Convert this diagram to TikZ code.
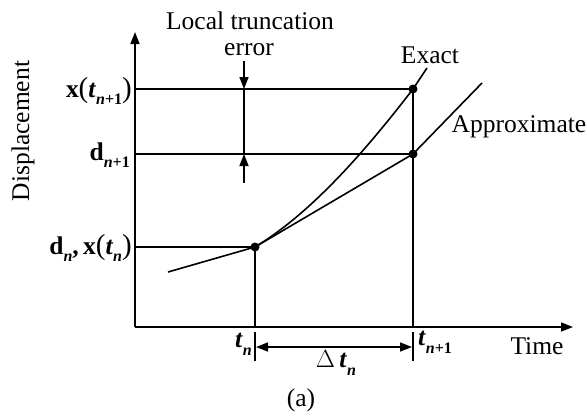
\documentclass[tikz,border=0pt]{standalone}
\usepackage{fontspec}
\setmainfont{Liberation Serif}
\usetikzlibrary{arrows.meta}
\newcommand\myT{\textbf{\textit{t}}}
\newcommand\mysub[1]{\raisebox{-0.3em}{\fontsize{16}{17}\selectfont\bfseries\itshape #1}}
\newcommand\myP[1]{{\fontsize{29}{30}\selectfont #1}}
\begin{document}
\begin{tikzpicture}[x=1pt,y=-1pt,
  line/.style={line width=1.6pt},
  tipend/.style={-{Triangle[length=12pt,width=9pt]}},
  tipboth/.style={{Triangle[length=12pt,width=9pt]}-{Triangle[length=12pt,width=9pt]}},
  dot/.style={circle,fill,inner sep=0pt,minimum size=9pt},
  lbl/.style={font=\fontsize{25.5}{29}\selectfont, inner sep=0pt},
]
\useasboundingbox (0,0) rectangle (587,416);
% coordinates
\coordinate (O) at (135,327);
\coordinate (ytop) at (135,32);
\coordinate (xend) at (573,327);
\node[dot] (Pn) at (255,247) {};
\node[dot] (Ex) at (413,89) {};
\node[dot] (Ap) at (413,154) {};
\coordinate (Yx) at (135,89);
\coordinate (Yd1) at (135,154);
\coordinate (Ydn) at (135,247);
\coordinate (Tn) at (255,327);
\coordinate (Tn1) at (413,327);
\coordinate (tka) at (255,332);
\coordinate (tkb) at (255,361);
\coordinate (tkc) at (413,332);
\coordinate (tkd) at (413,361);
\coordinate (dl) at (256,347);
\coordinate (dr) at (412,347);
\coordinate (ea) at (244,61);
\coordinate (eb) at (244,89);
\coordinate (ec) at (244,154);
\coordinate (ed) at (244,183);
\coordinate (lstart) at (168,272);
\coordinate (exend) at (427,68);
\coordinate (apend) at (482,83);
% axes
\draw[line,tipend] (O) -- (ytop);
\draw[line,tipend] (O) -- (xend);
% guide lines
\draw[line] (Yx) -- (Ex.center);
\draw[line] (Yd1) -- (Ap.center);
\draw[line] (Ydn) -- (Pn.center);
\draw[line] (Pn.center) -- (Tn);
\draw[line] (Ex.center) -- (Tn1);
\draw[line] (tka) -- (tkb);
\draw[line] (tkc) -- (tkd);
\draw[line,tipboth] (dl) -- (dr);
% error
\draw[line,tipend] (ea) -- (eb);
\draw[line] (eb) -- (ec);
\draw[line,tipend] (ed) -- (ec);
% curves
\draw[line] (lstart) -- (Pn.center);
\draw[line] (Pn.center) .. controls (308,215) and (360,158) .. (Ex.center) -- (exend);
\draw[line] (Pn.center) -- (Ap.center) -- (apend);
% labels
\node[lbl] (lt) at (250,21) {Local truncation};
\node[lbl] (er) at (249,50) {error};
\node[lbl] (exl) at (430,55) {Exact};
\node[lbl] (apl) at (519,127) {Approximate};
\node[lbl,rotate=90] (disp) at (23,131) {Displacement};
\node[lbl,anchor=east] (lx1) at (132,91) {\textbf{x}\myP{(}\myT\mysub{n\upshape+1}\myP{)}};
\node[lbl,anchor=east] (ld1) at (130,155) {\textbf{d}\mysub{n\upshape+1}};
\node[lbl,anchor=east] (ldn) at (132,248) {\textbf{d}\mysub{n}\textbf{,\,x}\myP{(}\myT\mysub{n}\myP{)}};
\node[lbl,anchor=east] (ltn) at (252,344) {\myT\mysub{n}};
\node[lbl,anchor=west] (ltn1) at (418,342) {\myT\mysub{n\upshape+1}};
\node[lbl] (time) at (537,346) {Time};
\node[lbl] (dt) at (336,363) {$\Delta$\,\myT\mysub{n}};
\node[lbl] (cap) at (301,400) {(a)};
\end{tikzpicture}
\end{document}
